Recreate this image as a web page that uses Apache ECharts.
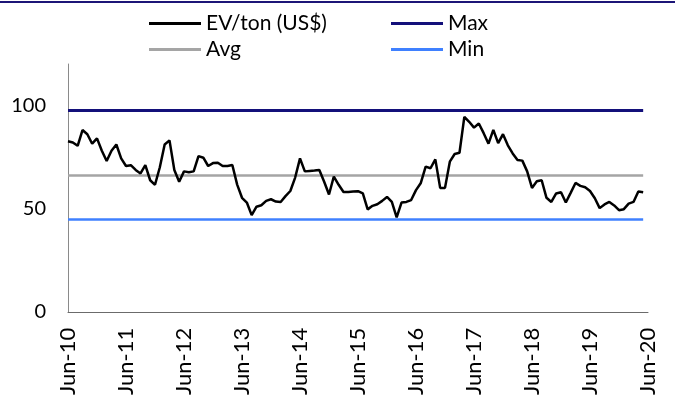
<!DOCTYPE html>
<html>
<head>
<meta charset="utf-8">
<script src="https://cdn.jsdelivr.net/npm/echarts@6/dist/echarts.min.js"></script>
<style>
html,body{margin:0;padding:0;background:#fff;}
#chart{width:675px;height:398px;}
</style>
</head>
<body>
<div id="chart"></div>
<script>
// Month labels Jun-10 .. Jun-20
const monthNames = ['Jan','Feb','Mar','Apr','May','Jun','Jul','Aug','Sep','Oct','Nov','Dec'];
const categories = [];
for (let k = 0; k < 121; k++) {
  const m = (5 + k) % 12;
  const y = 10 + Math.floor((5 + k) / 12);
  categories.push(monthNames[m] + '-' + String(y).padStart(2, '0'));
}

// EV/ton (US$) monthly values
const evTon = [
  82.6, 82, 80.4, 88, 86, 81.4, 84, 78, 73, 78, 81, 74.3,
  70.6, 71, 68.7, 67, 71, 63.7, 61.5, 70, 81, 83, 68.7, 63,
  68, 67.6, 68, 75.4, 74.6, 70.6, 72, 72.2, 70.6, 70.6, 71.1, 61.6,
  55.2, 52.9, 46.8, 50.9, 51.6, 53.7, 54.5, 53.4, 53.2, 56, 58.5, 65,
  74.3, 68, 68.2, 68.4, 68.7, 63, 56.8, 65.5, 61.5, 58, 58, 58.2,
  58.4, 57.3, 49.6, 51.3, 52.1, 53.7, 55.6, 53.2, 45.7, 52.9, 53.2, 54.1,
  58.9, 62.4, 70.3, 69.5, 73.8, 60, 60, 72.7, 76.4, 77, 94.4, 92,
  89.2, 91.2, 86.5, 81.4, 88.1, 81.7, 86, 80.6, 76.7, 73.5, 73.2, 68,
  60, 63.2, 63.7, 55.2, 53.2, 57.3, 57.9, 52.9, 57.6, 62.4, 61, 60.3,
  58.5, 55, 50.2, 52, 53.2, 51.5, 49.2, 49.7, 52.4, 53.2, 58.3, 57.9,
  null
];

const maxValue = 97.4;
const avgValue = 66.3;
const minValue = 44.8;
const lastIndex = 119;

const yTicks = [0, 50, 100];

const FONT = 'Lato';

function refLine(name, value, color, width) {
  return {
    name: name,
    type: 'line',
    data: [],
    itemStyle: { color: color },
    lineStyle: { color: color, width: width },
    markLine: {
      silent: true,
      symbol: ['none', 'none'],
      label: { show: false },
      lineStyle: { color: color, width: width, type: 'solid' },
      data: [[
        { coord: [categories[0], value] },
        { coord: [categories[lastIndex], value] }
      ]]
    }
  };
}

function legendAt(name, left, top) {
  return {
    data: [name],
    left: left,
    top: top,
    icon: 'rect',
    itemWidth: 52,
    itemHeight: 3,
    itemGap: 0,
    textStyle: { fontFamily: FONT, fontSize: 21, color: '#000', padding: [0, 0, 0, 0] },
    selectedMode: false
  };
}

const chart = echarts.init(document.getElementById('chart'), null, { renderer: 'canvas' });
chart.setOption({
  animation: false,
  backgroundColor: '#fff',
  textStyle: { fontFamily: FONT },
  graphic: [{
    type: 'line',
    shape: { x1: 0, y1: 2, x2: 675, y2: 2 },
    style: { stroke: '#1c1577', lineWidth: 2 }
  }],
  legend: [
    legendAt('EV/ton (US$)', 144, 8),
    legendAt('Max', 386, 8),
    legendAt('Avg', 144, 34),
    legendAt('Min', 386, 34)
  ],
  grid: { left: 68, right: 27, top: 64, bottom: 83, containLabel: false },
  xAxis: {
    type: 'category',
    data: categories,
    boundaryGap: false,
    axisLine: { show: true, lineStyle: { color: '#6b6b6b', width: 1 } },
    axisTick: { show: false },
    splitLine: { show: false },
    axisLabel: {
      interval: 11,
      rotate: 90,
      margin: 16,
      fontFamily: FONT,
      fontSize: 22,
      color: '#000'
    }
  },
  yAxis: {
    type: 'value',
    min: 0,
    max: 120,
    interval: 50,
    axisLine: { show: true, lineStyle: { color: '#8a8a8a', width: 1 } },
    axisTick: { show: false },
    splitLine: { show: false },
    axisLabel: {
      margin: 22,
      fontFamily: FONT,
      fontSize: 20,
      color: '#000',
      formatter: function (v) { return yTicks.indexOf(v) >= 0 ? String(v) : ''; }
    }
  },
  series: [
    {
      name: 'EV/ton (US$)',
      type: 'line',
      data: evTon,
      showSymbol: false,
      symbol: 'none',
      z: 5,
      itemStyle: { color: '#000' },
      lineStyle: { color: '#000', width: 2.5 }
    },
    refLine('Max', maxValue, '#13107a', 3),
    refLine('Avg', avgValue, '#a5a5a5', 2.5),
    refLine('Min', minValue, '#3f80ff', 2.5)
  ]
});
</script>
</body>
</html>
